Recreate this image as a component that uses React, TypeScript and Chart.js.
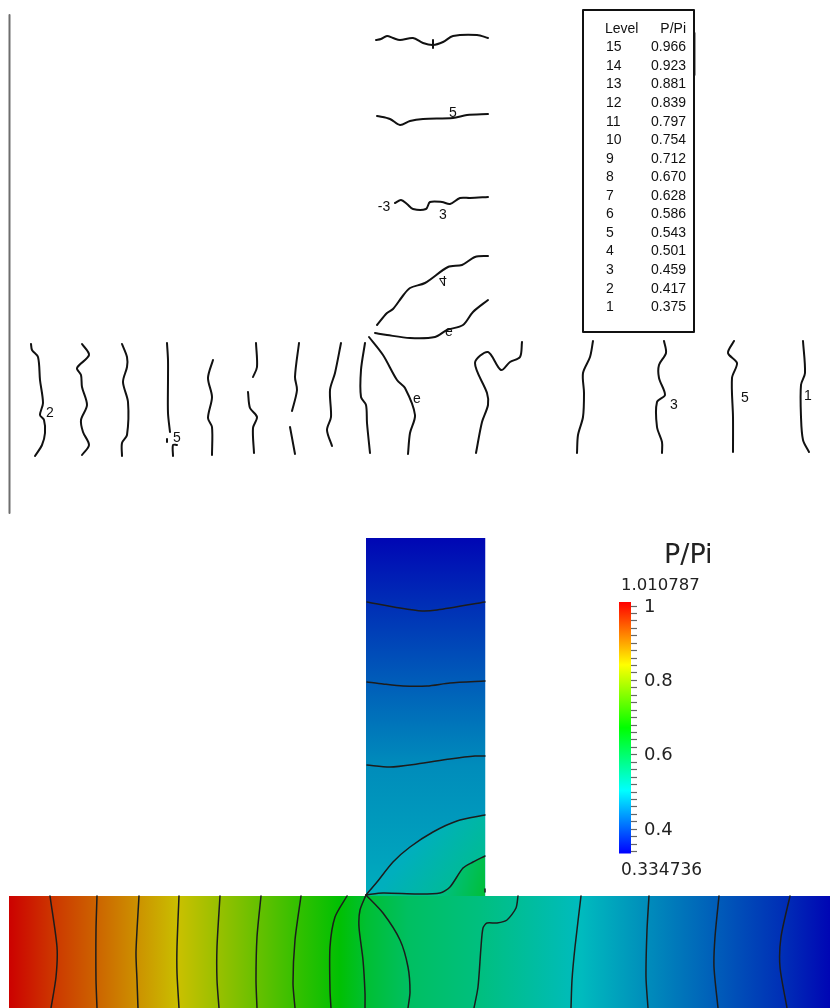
import React, { useEffect, useRef } from "react";
import { Chart, registerables } from "chart.js";

Chart.register(...registerables);

type Pt = [number, number];
type Pt3 = [number, number, number];

// ---------- table ----------
const levels = [15, 14, 13, 12, 11, 10, 9, 8, 7, 6, 5, 4, 3, 2, 1];
const levelRatios = ["0.966", "0.923", "0.881", "0.839", "0.797", "0.754", "0.712", "0.670", "0.628", "0.586", "0.543", "0.501", "0.459", "0.417", "0.375"];

// ---------- upper panel contour traces ----------
const upperBranch: Pt[][] = [
  [[376, 40], [381, 39], [387, 36], [393, 38], [400, 40], [413, 38], [423, 43], [433, 45], [443, 42], [453, 36], [477, 35], [488, 38]],
  [[377, 116], [390, 119], [400, 125], [410, 121], [423, 119], [453, 118], [467, 115], [488, 114]],
  [[395, 203], [401, 200], [407, 204], [413, 209], [426, 209], [430, 202], [442, 202], [450, 204], [460, 198], [470, 198], [488, 197]],
  [[377, 325], [387, 313], [393, 309], [402, 297], [410, 288], [425, 283], [448, 267], [462, 265], [475, 257], [488, 256]],
  [[375, 333], [387, 335], [410, 338], [435, 337], [447, 330], [463, 325], [473, 312], [488, 300]],
  [[433, 40], [433, 48]],
];
const upperChannel: Pt[][] = [
  [[31, 344], [32, 350], [38, 357], [40, 380], [43, 403], [40, 415], [44, 420], [45, 433], [42, 445], [35, 456]],
  [[82, 344], [89, 355], [77, 368], [81, 375], [82, 387], [87, 405], [81, 420], [83, 432], [89, 445], [82, 455]],
  [[122, 344], [127, 357], [127, 367], [123, 382], [128, 402], [127, 435], [122, 443], [122, 456]],
  [[167, 343], [168, 360], [168, 380], [168, 413], [170, 432]],
  [[167, 439], [167, 442]],
  [[177, 445], [173, 445], [173, 456]],
  [[213, 360], [208, 378], [212, 397], [208, 418], [212, 427], [212, 455]],
  [[256, 343], [257, 367], [253, 377]],
  [[248, 392], [250, 408], [257, 417], [253, 428], [254, 453]],
  [[299, 343], [295, 377], [297, 390], [292, 411]],
  [[290, 427], [295, 454]],
  [[341, 343], [335, 373], [330, 390], [331, 417], [327, 430], [332, 446]],
  [[365, 343], [361, 370], [361, 397], [366, 405], [367, 423], [370, 453]],
  [[369, 337], [383, 355], [397, 380], [405, 388], [415, 415], [410, 433], [408, 454]],
  [[522, 342], [520, 357], [510, 362], [501, 370], [488, 352], [475, 363], [487, 393], [488, 405], [482, 422], [476, 453]],
  [[593, 341], [590, 357], [583, 373], [584, 393], [583, 417], [578, 435], [577, 453]],
  [[664, 341], [666, 353], [659, 365], [659, 378], [665, 395], [657, 402], [657, 427], [662, 442], [662, 453]],
  [[734, 341], [728, 353], [737, 363], [732, 378], [733, 417], [733, 452]],
  [[803, 341], [805, 373], [801, 385], [801, 417], [803, 440], [809, 452]],
];
const frameLine: Pt[] = [[9.5, 15], [9.5, 513]];
const tableBox: Pt[] = [[583, 10], [694, 10], [694, 332], [583, 332], [583, 10]];
const tableMark: Pt[] = [[695, 33], [695, 75]];

// ---------- lower panel field: pressure ratio read along the passages ----------
const channelX = [9, 50, 97, 139, 179, 220, 261, 301, 340, 366, 408, 480, 581, 648, 716, 785, 830];
const channelP = [1.01, 0.966, 0.923, 0.881, 0.839, 0.797, 0.754, 0.712, 0.67, 0.628, 0.586, 0.56, 0.501, 0.459, 0.417, 0.375, 0.34];
const branchY = [538, 602, 682, 765, 815, 860, 896];
const branchP = [0.34, 0.375, 0.417, 0.459, 0.47, 0.48, 0.49];
const colorMapP = [0.334736, 0.5037, 0.6727, 0.8417, 1.010787];
const fieldRGB: Pt3[] = [[0, 0, 180], [0, 190, 190], [0, 192, 0], [204, 192, 0], [204, 0, 0]];
const barRGB: Pt3[] = [[0, 0, 255], [0, 255, 255], [0, 255, 0], [255, 255, 0], [255, 0, 0]];

// ---------- lower panel contour traces ----------
const curveD: Pt[] = [[366, 895], [377, 882], [393, 862], [410, 847], [433, 832], [457, 821], [485, 815]];
const curveE: Pt[] = [[366, 895], [383, 893], [417, 894], [440, 893], [450, 887], [463, 868], [473, 862], [485, 856]];
const lowerContours: Pt[][] = [
  [[367, 602], [400, 608], [422, 611], [437, 610], [485, 602]],
  [[367, 682], [383, 684], [403, 686], [427, 686], [450, 683], [485, 681]],
  [[367, 765], [390, 767], [417, 764], [450, 759], [475, 756], [485, 756]],
  curveD,
  curveE,
  [[485, 889], [485, 892]],
  [[518, 896], [516, 908], [507, 920], [497, 923], [487, 923], [483, 928], [481, 947], [478, 987], [474, 1008]],
  [[366, 895], [383, 913], [400, 940], [408, 967], [410, 992], [408, 1008]],
  [[366, 895], [360, 910], [359, 927], [363, 960], [365, 993], [365, 1008]],
  [[347, 896], [335, 917], [330, 947], [330, 990], [331, 1008]],
  [[50, 896], [57, 947], [56, 977], [51, 1008]],
  [[97, 896], [96, 930], [96, 980], [97, 1008]],
  [[139, 896], [136, 952], [137, 980], [138, 1008]],
  [[179, 896], [177, 947], [177, 973], [179, 1008]],
  [[220, 896], [217, 947], [217, 980], [219, 1008]],
  [[261, 896], [257, 937], [256, 980], [257, 1008]],
  [[301, 896], [295, 940], [293, 983], [295, 1008]],
  [[581, 896], [575, 947], [572, 980], [571, 1008]],
  [[649, 896], [647, 930], [646, 977], [648, 1008]],
  [[719, 896], [715, 937], [714, 967], [718, 1008]],
  [[790, 896], [781, 937], [780, 967], [787, 1008]],
];

// ---------- colour bar ----------
const barMin = 0.334736;
const barMax = 1.010787;
const barLabels = [1, 0.8, 0.6, 0.4];
const barTicks = [1, 0.98, 0.96, 0.94, 0.92, 0.9, 0.88, 0.86, 0.84, 0.82, 0.8, 0.78, 0.76, 0.74, 0.72, 0.7, 0.68, 0.66, 0.64, 0.62, 0.6, 0.58, 0.56, 0.54, 0.52, 0.5, 0.48, 0.46, 0.44, 0.42, 0.4, 0.38, 0.36, 0.34];

// ---------- contour labels ----------
const contourLabels: { text: string; x: number; y: number; flip?: boolean }[] = [
  { text: "5", x: 453, y: 113 },
  { text: "-3", x: 384, y: 207 },
  { text: "3", x: 443, y: 215 },
  { text: "4", x: 443, y: 280, flip: true },
  { text: "e", x: 449, y: 332 },
  { text: "e", x: 417, y: 399 },
  { text: "2", x: 50, y: 413 },
  { text: "5", x: 177, y: 438 },
  { text: "3", x: 674, y: 405 },
  { text: "5", x: 745, y: 398 },
  { text: "1", x: 808, y: 396 },
];

const toPts = (a: Pt[]) => a.map(([x, y]) => ({ x, y }));

function colorAt(p: number, rgb: Pt3[], alpha = 1) {
  let i = 0;
  while (i < colorMapP.length - 2 && p > colorMapP[i + 1]) i++;
  const t = Math.min(1, Math.max(0, (p - colorMapP[i]) / (colorMapP[i + 1] - colorMapP[i])));
  const c = rgb[i].map((v, k) => Math.round(v + (rgb[i + 1][k] - v) * t));
  return `rgba(${c[0]},${c[1]},${c[2]},${alpha})`;
}

function gradient(c: any, x0: number, y0: number, x1: number, y1: number, pos: number[], ps: number[], rgb: Pt3[]) {
  if (![x0, y0, x1, y1].every(Number.isFinite)) return "transparent";
  const g = c.chart.ctx.createLinearGradient(x0, y0, x1, y1);
  const a = pos[0];
  const b = pos[pos.length - 1];
  pos.forEach((v, i) => g.addColorStop((v - a) / (b - a), colorAt(ps[i], rgb)));
  return g;
}

const channelFill = (c: any) => {
  const { x } = c.chart.scales;
  return gradient(c, x.getPixelForValue(channelX[0]), 0, x.getPixelForValue(channelX[channelX.length - 1]), 0, channelX, channelP, fieldRGB);
};
const branchFill = (c: any) => {
  const { y } = c.chart.scales;
  return gradient(c, 0, y.getPixelForValue(branchY[0]), 0, y.getPixelForValue(branchY[branchY.length - 1]), branchY, branchP, fieldRGB);
};
const diag = (x0: number, y0: number, x1: number, y1: number, ps: number[]) => (c: any) => {
  const { x, y } = c.chart.scales;
  return gradient(c, x.getPixelForValue(x0), y.getPixelForValue(y0), x.getPixelForValue(x1), y.getPixelForValue(y1), ps.map((_, i) => i), ps, fieldRGB);
};
const barFill = (c: any) => {
  const s = c.chart.scales.yBar;
  return gradient(c, 0, s.getPixelForValue(barMin), 0, s.getPixelForValue(barMax), colorMapP, colorMapP, barRGB);
};

const area = (data: Pt[], fill: any, backgroundColor: any, order: number, extra: any = {}) => ({
  type: "scatter" as const,
  showLine: true,
  data: toPts(data),
  fill,
  backgroundColor,
  borderWidth: 0,
  borderColor: "transparent",
  pointRadius: 0,
  order,
  ...extra,
});
const stroke = (data: Pt[], color: string, width: number, tension = 0) => ({
  type: "scatter" as const,
  showLine: true,
  data: toPts(data),
  fill: false,
  borderColor: color,
  borderWidth: width,
  borderCapStyle: "round",
  borderJoinStyle: "round",
  tension,
  pointRadius: 0,
  order: 0,
});

const textPlugin = {
  id: "texts",
  afterDatasetsDraw(chart: any) {
    const { ctx, scales } = chart;
    const { x, y, yBar } = scales;
    const px = (v: number) => x.getPixelForValue(v);
    const py = (v: number) => y.getPixelForValue(v);
    ctx.save();
    ctx.fillStyle = "#111";
    ctx.textBaseline = "middle";

    // table
    ctx.font = "14px 'Liberation Sans'";
    ctx.textAlign = "left";
    ctx.fillText("Level", px(605), py(29));
    ctx.textAlign = "right";
    ctx.fillText("P/Pi", px(686), py(29));
    levels.forEach((lv, i) => {
      const row = py(47.5 + i * 18.55);
      ctx.textAlign = "left";
      ctx.fillText(String(lv), px(606), row);
      ctx.textAlign = "right";
      ctx.fillText(levelRatios[i], px(686), row);
    });

    // contour labels
    ctx.font = "14px 'Liberation Sans'";
    ctx.textAlign = "center";
    contourLabels.forEach((l) => {
      ctx.save();
      ctx.translate(px(l.x), py(l.y));
      if (l.flip) ctx.scale(1, -1);
      ctx.fillText(l.text, 0, 0);
      ctx.restore();
    });

    // colour bar text
    ctx.fillStyle = "#222";
    ctx.textAlign = "left";
    ctx.font = "27px 'DejaVu Sans'";
    ctx.fillText("P/Pi", px(664), py(556));
    ctx.font = "16.5px 'DejaVu Sans'";
    ctx.fillText("1.010787", px(621), py(586));
    ctx.font = "17px 'DejaVu Sans'";
    ctx.fillText("0.334736", px(621), py(871));
    ctx.font = "18px 'DejaVu Sans'";
    barLabels.forEach((v) => {
      ctx.fillText(String(v), px(644), yBar.getPixelForValue(v) + 1);
    });
    ctx.restore();
  },
};

export default function App() {
  const ref = useRef<HTMLCanvasElement>(null);
  useEffect(() => {
    if (!ref.current) return;
    const datasets: any[] = [
      // field
      area([[9, 896], [830, 896]], { value: 1008 }, channelFill, 20),
      area([[366, 538], [485.5, 538]], { value: 896 }, branchFill, 19),
      area(curveD, { value: 896 }, diag(415, 845, 475, 893, [0.49, 0.55]), 18),
      area(curveE, { value: 896 }, diag(440, 880, 490, 895, [0.55, 0.63]), 17),
      // colour bar
      area([[619, barMin], [631, barMin]], { value: barMax }, barFill, 16, { yAxisID: "yBar" }),
      // upper panel
      stroke(frameLine, "#6e6e6e", 2),
      stroke(tableBox, "#111", 2),
      stroke(tableMark, "#777", 1.5),
      ...upperBranch.map((c) => stroke(c, "#111", 2, 0.3)),
      ...upperChannel.map((c) => stroke(c, "#111", 2, 0.3)),
      // lower panel
      ...lowerContours.map((c) => stroke(c, "#1c1c1c", 1.5, 0.25)),
    ];
    const chart = new Chart(ref.current, {
      type: "scatter",
      data: { datasets },
      plugins: [textPlugin],
      options: {
        animation: false,
        responsive: false,
        layout: { padding: 0 },
        plugins: { legend: { display: false }, tooltip: { enabled: false }, title: { display: false } },
        scales: {
          x: { type: "linear", min: 0, max: 830, display: false },
          y: { type: "linear", min: 0, max: 1008, reverse: true, display: false },
          yBar: {
            type: "linear",
            min: barMax - (1008 - 602) / 372,
            max: barMax + 602 / 372,
            position: { x: 631 },
            afterBuildTicks: (axis: any) => {
              axis.ticks = barTicks.map((value) => ({ value }));
            },
            ticks: { display: false },
            border: { display: false },
            grid: {
              drawOnChartArea: false,
              drawTicks: true,
              tickLength: -6,
              tickWidth: 1.2,
              tickColor: "#666",
            },
          },
        },
      } as any,
    } as any);
    return () => chart.destroy();
  }, []);
  return (
    <div style={{ position: "absolute", left: 0, top: 0, width: 830, height: 1008, background: "#fff" }}>
      <canvas ref={ref} width={830} height={1008} style={{ display: "block" }} />
    </div>
  );
}
